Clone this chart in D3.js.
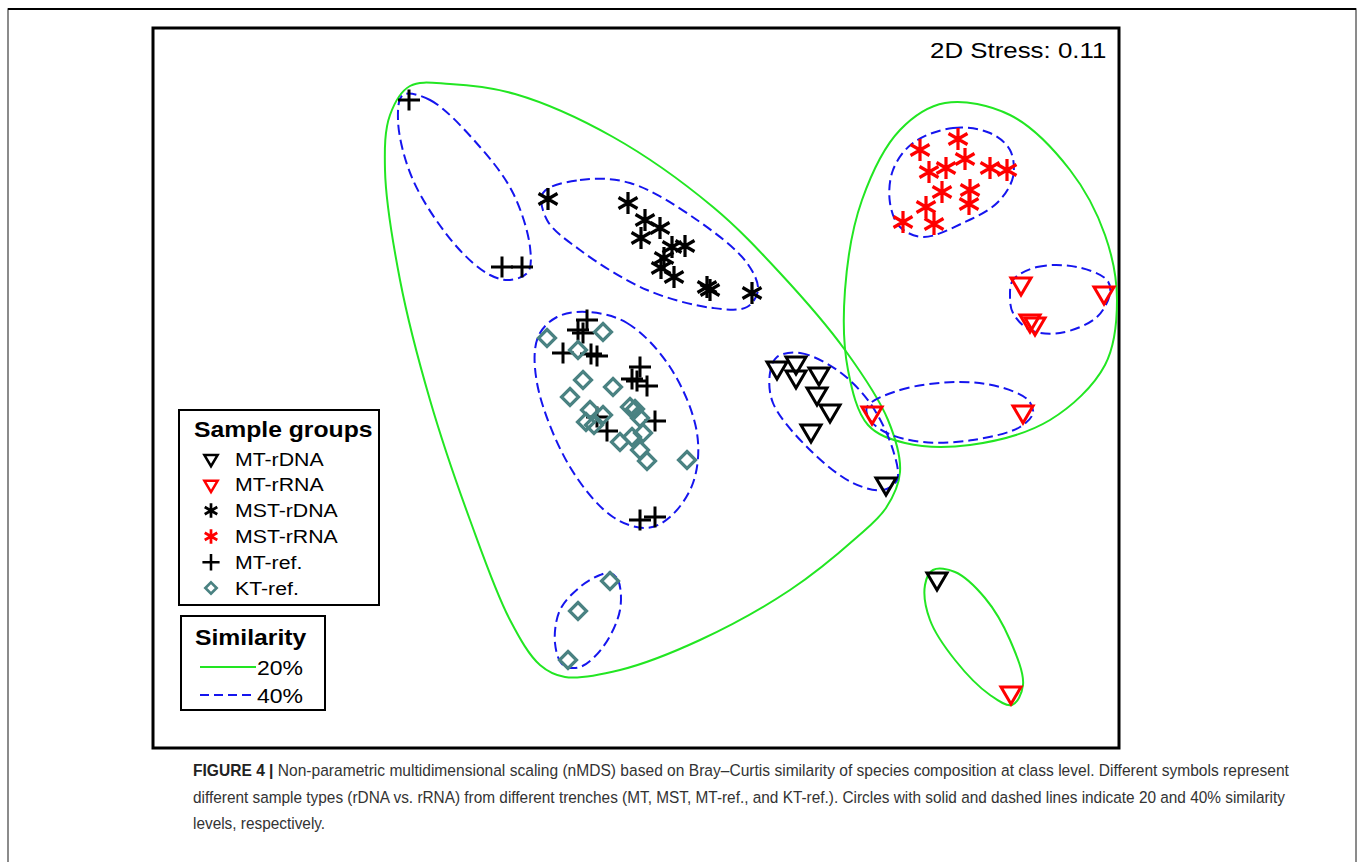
<!DOCTYPE html>
<html>
<head>
<meta charset="utf-8">
<title>nMDS Figure 4</title>
<script src="https://d3js.org/d3.v7.min.js"></script>
<style>
  body { margin: 0; background: #fff; }
  svg { display: block; font-family: "Liberation Sans", Arial, sans-serif; }
  .frame { fill: none; stroke: #000; stroke-width: 3; }
  .c20 { fill: none; stroke: #22e622; stroke-width: 2; }
  .c40 { fill: none; stroke: #1515ee; stroke-width: 2; stroke-dasharray: 10,5; }
  .caption { font-size: 16.5px; fill: #333; }
</style>
</head>
<body>
<svg id="chart" width="1358" height="862"></svg>
<script>
// nMDS coordinates (arbitrary units)
const mtRDNA = [[0.705,0.10],[0.80,0.125],[0.80,0.055],[0.915,0.07],[0.905,-0.03],[0.97,-0.115],
  [0.875,-0.215],[1.25,-0.48],[1.505,-0.955]];
const mtRRNA = [[1.18,-0.125],[1.935,-0.12],[1.925,0.52],[2.34,0.475],[1.97,0.335],[1.995,0.32],[1.875,-1.525]];
const mstRDNA = [[-0.44,0.945],[-0.04,0.925],[0.045,0.84],[0.12,0.80],[0.025,0.75],[0.18,0.705],[0.245,0.71],
  [0.14,0.65],[0.125,0.60],[0.19,0.555],[0.355,0.505],[0.37,0.49],[0.58,0.475]];
const mstRRNA = [[1.42,1.19],[1.61,1.245],[1.465,1.08],[1.55,1.10],[1.645,1.145],[1.77,1.10],[1.855,1.09],
  [1.53,0.98],[1.67,0.99],[1.665,0.92],[1.45,0.905],[1.335,0.83],[1.49,0.82]];
const mtRef = [[-1.135,1.44],[-0.67,0.605],[-0.57,0.605],[-0.245,0.34],[-0.29,0.29],[-0.265,0.275],
  [-0.365,0.175],[-0.225,0.17],[-0.195,0.16],[0.02,0.105],[-0.02,0.045],[0.005,0.035],[0.055,0.01],
  [-0.195,-0.145],[-0.145,-0.215],[0.095,-0.165],[0.02,-0.66],[0.095,-0.645]];
const ktRef = [[-0.445,0.25],[-0.165,0.28],[-0.29,0.19],[-0.265,0.04],[-0.115,0.005],[-0.33,-0.045],
  [-0.23,-0.11],[-0.25,-0.17],[-0.165,-0.135],[-0.03,-0.095],[-0.005,-0.105],[0.02,-0.15],[-0.08,-0.27],
  [-0.02,-0.245],[0.035,-0.225],[0.02,-0.31],[0.055,-0.365],[0.255,-0.36],[-0.21,-0.185],
  [-0.13,-0.965],[-0.29,-1.115],[-0.34,-1.36]];

// similarity contours (20% solid, 40% dashed)
const sim20 = [
  [[-1.13,1.51],[-0.93,1.52],[-0.605,1.47],[-0.115,1.255],[0.385,0.905],[0.72,0.575],[1.045,0.19],[1.26,-0.16],
   [1.32,-0.42],[1.25,-0.6],[1.1,-0.75],[0.77,-1.01],[0.32,-1.26],[-0.08,-1.41],[-0.355,-1.445],[-0.48,-1.385],
   [-0.63,-1.16],[-0.83,-0.66],[-1.03,-0.06],[-1.18,0.54],[-1.255,1.09],[-1.23,1.365]],
  [[1.545,1.425],[1.87,1.365],[2.17,1.09],[2.345,0.765],[2.405,0.44],[2.345,0.115],[2.07,-0.16],[1.67,-0.285],
   [1.345,-0.275],[1.16,-0.185],[1.06,0.09],[1.045,0.49],[1.13,0.94],[1.32,1.29]],
  [[1.485,-0.91],[1.595,-0.92],[1.745,-1.05],[1.87,-1.26],[1.935,-1.485],[1.88,-1.585],[1.77,-1.535],
   [1.595,-1.36],[1.47,-1.16],[1.445,-0.985]]
];
const sim40 = [
  [[-1.165,1.465],[-1.03,1.44],[-0.78,1.205],[-0.615,0.975],[-0.53,0.705],[-0.54,0.58],[-0.63,0.54],[-0.73,0.565],
   [-0.895,0.705],[-1.115,1.04],[-1.19,1.34]],
  [[-0.465,0.975],[-0.28,1.04],[-0.03,1.025],[0.305,0.84],[0.555,0.625],[0.61,0.49],[0.555,0.405],[0.385,0.40],
   [0.055,0.49],[-0.28,0.69],[-0.445,0.84]],
  [[-0.245,0.38],[-0.045,0.325],[0.17,0.105],[0.305,-0.225],[0.285,-0.475],[0.17,-0.645],[0.055,-0.70],
   [-0.115,-0.645],[-0.33,-0.395],[-0.495,0.025],[-0.49,0.255],[-0.395,0.355]],
  [[0.705,0.155],[0.82,0.175],[1.005,0.09],[1.17,-0.075],[1.285,-0.31],[1.305,-0.46],[1.235,-0.51],[1.085,-0.475],
   [0.87,-0.31],[0.685,-0.075],[0.67,0.075]],
  [[1.155,-0.095],[1.32,-0.01],[1.605,0.03],[1.82,0.005],[1.96,-0.06],[1.985,-0.125],[1.92,-0.195],[1.685,-0.26],
   [1.435,-0.27],[1.255,-0.225],[1.17,-0.16]],
  [[1.385,1.225],[1.585,1.30],[1.77,1.275],[1.87,1.19],[1.885,1.055],[1.805,0.925],[1.635,0.825],[1.435,0.755],
   [1.32,0.805],[1.27,0.925],[1.285,1.09]],
  [[1.885,0.54],[2.005,0.605],[2.205,0.605],[2.355,0.54],[2.37,0.475],[2.305,0.355],[2.12,0.275],[1.97,0.29],
   [1.885,0.375],[1.87,0.455]],
  [[-0.13,-0.925],[-0.09,-0.96],[-0.08,-1.11],[-0.165,-1.295],[-0.28,-1.395],[-0.365,-1.385],[-0.405,-1.275],
   [-0.38,-1.11],[-0.28,-0.995],[-0.18,-0.935]]
];

const groupNames = ["MT-rDNA","MT-rRNA","MST-rDNA","MST-rRNA","MT-ref.","KT-ref."];
const simLabels = ["20%","40%"];
const stressLabel = "2D Stress: 0.11";
const captionLines = [
  ["FIGURE 4 |", " Non-parametric multidimensional scaling (nMDS) based on Bray–Curtis similarity of species composition at class level. Different symbols represent"],
  ["", "different sample types (rDNA vs. rRNA) from different trenches (MT, MST, MT-ref., and KT-ref.). Circles with solid and dashed lines indicate 20 and 40% similarity"],
  ["", "levels, respectively."]
];

const svg = d3.select("#chart");
const box = {left: 153, top: 28, right: 1119, bottom: 748};

const x = d3.scaleLinear().domain([-2.415, 2.415]).range([box.left, box.right]);
const y = d3.scaleLinear().domain([-1.8, 1.8]).range([box.bottom, box.top]);

// outer figure border
svg.append("rect").attr("x", 8).attr("y", 9).attr("width", 1348).attr("height", 900)
  .attr("fill", "none").attr("stroke", "#666").attr("stroke-width", 1.5);
svg.append("line").attr("x1", 8).attr("x2", 1356).attr("y1", 9).attr("y2", 9)
  .attr("stroke", "#000").attr("stroke-width", 2);

svg.append("rect").attr("class", "frame")
  .attr("x", box.left).attr("y", box.top)
  .attr("width", box.right - box.left).attr("height", box.bottom - box.top);

const contour = d3.line().x(d => x(d[0])).y(d => y(d[1])).curve(d3.curveCatmullRomClosed.alpha(0.5));

const plot = svg.append("g");
plot.selectAll("path.c20").data(sim20).join("path").attr("class", "c20").attr("d", contour);
plot.selectAll("path.c40").data(sim40).join("path").attr("class", "c40").attr("d", contour);

// marker shapes
const shapes = {
  tri: "M-10,-6L10,-6L0,11Z",
  star: "M0,-11L0,11M-9.5,-5.5L9.5,5.5M-9.5,5.5L9.5,-5.5",
  plus: "M-11,0L11,0M0,-10.5L0,10.5",
  diamond: "M0,-8.5L8.5,0L0,8.5L-8.5,0Z"
};
const groups = [
  {data: mtRDNA, shape: "tri", color: "#000", sw: 3},
  {data: mtRRNA, shape: "tri", color: "#ff0000", sw: 3},
  {data: mstRDNA, shape: "star", color: "#000", sw: 3.2},
  {data: mstRRNA, shape: "star", color: "#ff0000", sw: 3.2},
  {data: mtRef, shape: "plus", color: "#000", sw: 3},
  {data: ktRef, shape: "diamond", color: "#4a8282", sw: 3.2}
];

groups.forEach(g => {
  plot.append("g").selectAll("path").data(g.data).join("path")
    .attr("transform", d => "translate(" + x(d[0]) + "," + y(d[1]) + ")")
    .attr("d", shapes[g.shape])
    .attr("fill", "none").attr("stroke", g.color).attr("stroke-width", g.sw)
    .attr("stroke-linejoin", "miter");
});

// stretched text helper (figure is a bit wider than tall)
function stext(parent, tx, ty, str, size, bold) {
  return parent.append("text")
    .attr("transform", "translate(" + tx + "," + ty + ") scale(1.15,1)")
    .attr("font-size", size).attr("font-weight", bold ? "bold" : "normal")
    .attr("fill", "#000").text(str);
}

stext(svg, 930, 58, stressLabel, 22.5, false);

// sample group legend
const leg = svg.append("g");
leg.append("rect").attr("x", 179).attr("y", 410).attr("width", 200).attr("height", 195)
  .attr("fill", "#fff").attr("stroke", "#000").attr("stroke-width", 2);
stext(leg, 194, 437, "Sample groups", 21.5, true);
groupNames.forEach((name, i) => {
  const cy = 459 + i * 25.8;
  const g = groups[i];
  const s = g.shape === "plus" ? 0.78 : 0.66;
  leg.append("path")
    .attr("transform", "translate(211," + cy + ") scale(" + s + ")")
    .attr("d", shapes[g.shape]).attr("fill", "none")
    .attr("stroke", g.color).attr("stroke-width", g.sw / s * 0.85);
  stext(leg, 235, cy + 6.5, name, 18.5, false);
});

// similarity legend
const sleg = svg.append("g");
sleg.append("rect").attr("x", 181).attr("y", 616).attr("width", 144).attr("height", 94)
  .attr("fill", "#fff").attr("stroke", "#000").attr("stroke-width", 2);
stext(sleg, 195, 645, "Similarity", 21.5, true);
simLabels.forEach((lab, i) => {
  const ly = 667 + i * 28;
  sleg.append("line").attr("x1", 200).attr("x2", 256).attr("y1", ly).attr("y2", ly)
    .attr("class", i === 0 ? "c20" : "c40").style("stroke-dasharray", i === 0 ? null : "9,5");
  stext(sleg, 257, ly + 7.5, lab, 20, false);
});

// caption: condensed horizontally to the widths seen in the figure
const capWidths = [1097, 1093];
let capScale = 1;
captionLines.forEach((ln, i) => {
  const t = svg.append("text").attr("class", "caption").attr("x", 0).attr("y", 0);
  if (ln[0]) t.append("tspan").attr("font-weight", "bold").attr("fill", "#222").text(ln[0]);
  t.append("tspan").text(ln[1]);
  const w = t.node().getComputedTextLength();
  if (i < capWidths.length) capScale = capWidths[i] / w;
  t.attr("transform", "translate(193," + (776 + i * 26.5) + ") scale(" + capScale + ",1)");
});
</script>
</body>
</html>
